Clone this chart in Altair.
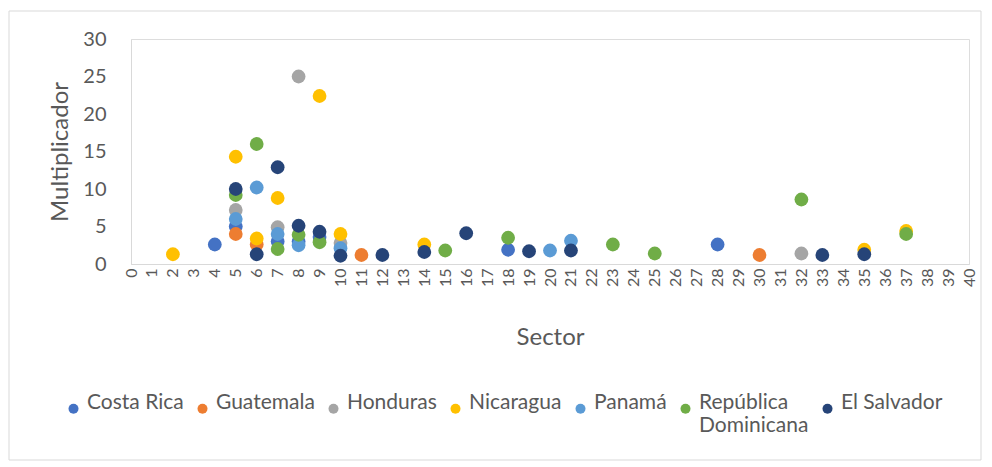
import altair as alt
import pandas as pd

series = ["Costa Rica", "Guatemala", "Honduras", "Nicaragua", "Panamá",
          "República Dominicana", "El Salvador"]
colors = ["#4472C4", "#ED7D31", "#A5A5A5", "#FFC000", "#5B9BD5", "#70AD47", "#264478"]

cr_x = [4, 5, 7, 8, 9, 18, 28]
cr_y = [2.6, 5.0, 3.0, 3.0, 3.6, 1.9, 2.6]
gt_x = [5, 6, 11, 30]
gt_y = [4.0, 2.6, 1.2, 1.2]
hn_x = [5, 7, 8, 10, 32]
hn_y = [7.2, 4.9, 25.0, 2.8, 1.4]
ni_x = [2, 5, 6, 7, 9, 10, 14, 35, 37]
ni_y = [1.3, 14.3, 3.4, 8.8, 22.4, 4.0, 2.6, 1.9, 4.4]
pa_x = [5, 6, 7, 8, 10, 20, 21]
pa_y = [6.0, 10.2, 4.0, 2.5, 2.1, 1.8, 3.1]
rd_x = [5, 6, 7, 8, 9, 15, 18, 23, 25, 32, 37]
rd_y = [9.2, 16.0, 2.0, 3.9, 2.9, 1.8, 3.5, 2.6, 1.4, 8.6, 4.0]
sv_x = [5, 6, 7, 8, 9, 10, 12, 14, 16, 19, 21, 33, 35]
sv_y = [10.0, 1.3, 12.9, 5.1, 4.3, 1.1, 1.2, 1.6, 4.1, 1.7, 1.8, 1.2, 1.3]

xs = [cr_x, gt_x, hn_x, ni_x, pa_x, rd_x, sv_x]
ys = [cr_y, gt_y, hn_y, ni_y, pa_y, rd_y, sv_y]

rows = []
order = 0
for s, xx, yy in zip(series, xs, ys):
    for a, b in zip(xx, yy):
        rows.append({"País": s, "Sector": a, "Multiplicador": b, "o": order})
        order += 1
df = pd.DataFrame(rows)

W, H = 838, 225
FONT = "Lato"
GREY = "#595959"

frame = alt.Chart(pd.DataFrame({"a": [0]})).mark_rect(
    fill="transparent", stroke="#D9D9D9", strokeWidth=1
).encode(
    x=alt.value(-122), x2=alt.value(W + 12),
    y=alt.value(-28), y2=alt.value(H + 196)
)

points = alt.Chart(df).mark_circle(size=190, opacity=1).encode(
    x=alt.X("Sector:Q", scale=alt.Scale(domain=[0, 40], nice=False),
            axis=alt.Axis(values=list(range(0, 41)), labelAngle=270, labelAlign="right",
                          labelBaseline="middle", labelPadding=4, tickSize=0,
                          grid=False, domainColor="#D9D9D9", labelColor=GREY,
                          labelFontSize=16, labelFont=FONT, titleFont=FONT,
                          titleFontSize=24, titleColor=GREY, titleFontWeight="normal",
                          titlePadding=39, labelOverlap=False, labelFlush=False)),
    y=alt.Y("Multiplicador:Q", scale=alt.Scale(domain=[0, 30], nice=False),
            axis=alt.Axis(values=[0, 5, 10, 15, 20, 25, 30], tickSize=0, labelPadding=25,
                          grid=False, domainColor="#D9D9D9", labelColor=GREY,
                          labelFontSize=20, labelFont=FONT, titleFont=FONT,
                          titleFontSize=24, titleColor=GREY, titleFontWeight="normal",
                          titlePadding=10)),
    color=alt.Color("País:N", scale=alt.Scale(domain=series, range=colors),
                    legend=alt.Legend(title=None, orient="none", direction="horizontal",
                                      columns=7, legendX=-68, legendY=359,
                                      symbolType="circle", symbolSize=100,
                                      labelFont=FONT, labelFontSize=21, labelColor=GREY,
                                      labelOffset=3, columnPadding=8, labelLimit=300,
                                      labelBaseline="alphabetic",
                                      labelExpr="datum.label == 'República Dominicana' ? ['República', 'Dominicana'] : [datum.label, '']")),
    order=alt.Order("o:Q"),
)

chart = alt.layer(frame, points).properties(
    width=W, height=H, padding={"left": 0, "top": 2, "right": 0, "bottom": 0}
).configure_view(stroke=None).configure(background="white")

chart.save("out.html", embed_options={"renderer": "svg", "actions": False})
